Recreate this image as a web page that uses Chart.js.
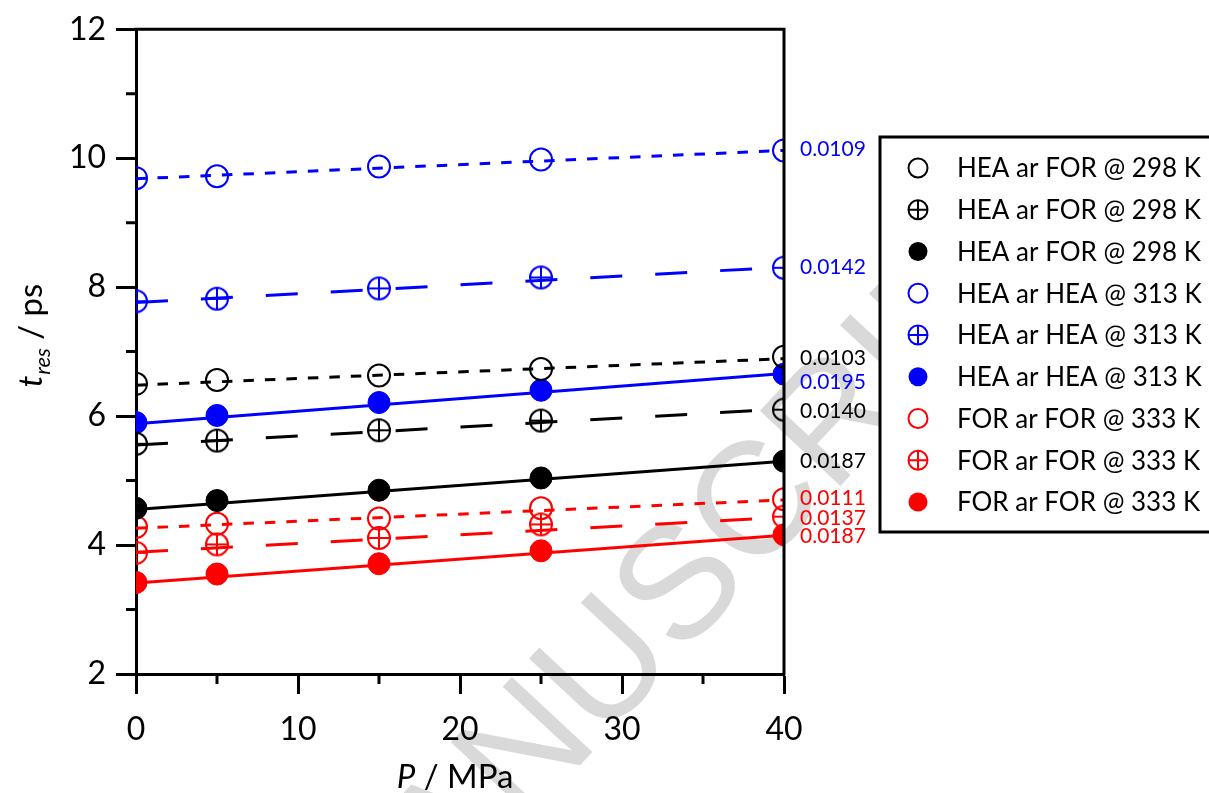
<!DOCTYPE html>
<html><head><meta charset="utf-8">
<script src="https://cdn.jsdelivr.net/npm/chart.js@4.4.0/dist/chart.umd.min.js"></script>
<style>html,body{margin:0;padding:0;background:#fff;}canvas{display:block;}</style>
</head><body>
<canvas id="c" width="1209" height="793"></canvas>
<script>
// ---------- data ----------
const pressures = [0, 5, 15, 25, 40];
const fitX = [0, 40];
const seriesLabels = [
  'HEA ar FOR @ 298 K', 'HEA ar FOR @ 298 K', 'HEA ar FOR @ 298 K',
  'HEA ar HEA @ 313 K', 'HEA ar HEA @ 313 K', 'HEA ar HEA @ 313 K',
  'FOR ar FOR @ 333 K', 'FOR ar FOR @ 333 K', 'FOR ar FOR @ 333 K'
];
const blackOpen   = [6.50, 6.56, 6.63, 6.73, 6.92];
const blackCross  = [5.57, 5.62, 5.78, 5.93, 6.10];
const blackFilled = [4.57, 4.69, 4.85, 5.04, 5.30];
const blueOpen    = [9.69, 9.72, 9.87, 9.98, 10.12];
const blueCross   = [7.78, 7.82, 7.98, 8.15, 8.30];
const blueFilled  = [5.90, 6.01, 6.21, 6.40, 6.65];
const redOpen     = [4.28, 4.33, 4.41, 4.57, 4.71];
const redCross    = [3.88, 4.01, 4.11, 4.32, 4.44];
const redFilled   = [3.42, 3.55, 3.71, 3.91, 4.16];

const blackOpenFit   = [6.48, 6.89];
const blackCrossFit  = [5.55, 6.11];
const blackFilledFit = [4.55, 5.30];
const blueOpenFit    = [9.68, 10.12];
const blueCrossFit   = [7.76, 8.31];
const blueFilledFit  = [5.88, 6.66];
const redOpenFit     = [4.26, 4.70];
const redCrossFit    = [3.89, 4.43];
const redFilledFit   = [3.41, 4.15];

const slopeLabels = ['0.0103', '0.0140', '0.0187', '0.0109', '0.0142', '0.0195', '0.0111', '0.0137', '0.0187'];
const xTicks = [0, 10, 20, 30, 40];
const yTicks = [2, 4, 6, 8, 10, 12];

// ---------- styling ----------
const BLACK = '#000000', BLUE = '#0000ff', RED = '#ff0000';
const FONT = 'Lato, "Open Sans", sans-serif';
const pointSeries = [blackOpen, blackCross, blackFilled, blueOpen, blueCross, blueFilled, redOpen, redCross, redFilled];
const fitSeries = [blackOpenFit, blackCrossFit, blackFilledFit, blueOpenFit, blueCrossFit, blueFilledFit, redOpenFit, redCrossFit, redFilledFit];
const colors = [BLACK, BLACK, BLACK, BLUE, BLUE, BLUE, RED, RED, RED];
const kinds = ['open', 'cross', 'filled', 'open', 'cross', 'filled', 'open', 'cross', 'filled'];
const dashes = { open: [10.5, 11], cross: [32, 33], filled: [] };
const labelDy = [0, 2, 0, -1, 0, 9, -2, 1, 1];

function crossCanvas(color, r) {
  const s = 2 * r + 6, c = document.createElement('canvas');
  c.width = s; c.height = s;
  const g = c.getContext('2d');
  g.strokeStyle = color; g.lineWidth = 2;
  const m = s / 2;
  g.beginPath(); g.arc(m, m, r, 0, Math.PI * 2); g.stroke();
  g.beginPath(); g.moveTo(m - r, m); g.lineTo(m + r, m); g.moveTo(m, m - r); g.lineTo(m, m + r); g.stroke();
  return c;
}

const datasets = [];
pointSeries.forEach((vals, i) => {
  const k = kinds[i], col = colors[i];
  datasets.push({
    label: seriesLabels[i],
    data: pressures.map((p, j) => ({ x: p, y: vals[j] })),
    showLine: false,
    pointStyle: k === 'cross' ? crossCanvas(col, 11) : 'circle',
    pointRadius: 11,
    pointHoverRadius: 11,
    pointBorderWidth: k === 'filled' ? 1 : 2,
    pointBorderColor: col,
    pointBackgroundColor: k === 'filled' ? col : 'rgba(0,0,0,0)',
    order: 1,
    _kind: k, _color: col
  });
});
fitSeries.forEach((vals, i) => {
  datasets.push({
    label: 'fit' + i,
    data: fitX.map((p, j) => ({ x: p, y: vals[j] })),
    showLine: true,
    borderColor: colors[i],
    borderWidth: 3,
    borderDash: dashes[kinds[i]],
    pointRadius: 0,
    pointHoverRadius: 0,
    fill: false,
    order: 2,
    _fit: true, _idx: i
  });
});

const decor = {
  id: 'decor',
  beforeDraw(chart) {
    const ctx = chart.ctx;
    ctx.save();
    ctx.fillStyle = '#ffffff';
    ctx.fillRect(0, 0, chart.width, chart.height);
    // watermark
    ctx.translate(680, 658);
    ctx.rotate(-47 * Math.PI / 180);
    ctx.fillStyle = '#d9d9d9';
    ctx.font = '160px "Liberation Sans", Arial, sans-serif';
    ctx.textBaseline = 'alphabetic';
    ctx.textAlign = 'right';
    ctx.fillText('ACCEPTED MANU', 0, 0);
    ctx.textAlign = 'left';
    ctx.fillText('SCRIPT', 0, 0);
    ctx.restore();
  },
  afterDraw(chart) {
    const ctx = chart.ctx, a = chart.chartArea;
    const xs = chart.scales.x, ys = chart.scales.y;
    ctx.save();
    ctx.strokeStyle = BLACK; ctx.lineWidth = 3; ctx.lineCap = 'butt';
    // frame top & right
    ctx.beginPath();
    ctx.moveTo(a.left - 1.5, a.top); ctx.lineTo(a.right, a.top); ctx.lineTo(a.right, a.bottom + 1.5);
    ctx.stroke();
    // minor ticks
    ctx.beginPath();
    [3, 5, 7, 9, 11].forEach(v => { const y = ys.getPixelForValue(v); ctx.moveTo(a.left - 10, y); ctx.lineTo(a.left, y); });
    [5, 15, 25, 35].forEach(v => { const x = xs.getPixelForValue(v); ctx.moveTo(x, a.bottom); ctx.lineTo(x, a.bottom + 10); });
    ctx.stroke();

    // slope annotations
    ctx.font = '21px ' + FONT;
    ctx.textAlign = 'left'; ctx.textBaseline = 'middle';
    fitSeries.forEach((vals, i) => {
      ctx.fillStyle = colors[i];
      ctx.fillText(slopeLabels[i], a.right + 16, ys.getPixelForValue(vals[vals.length - 1]) + labelDy[i]);
    });

    // axis titles
    ctx.fillStyle = BLACK;
    ctx.textBaseline = 'alphabetic';
    const fMain = '33px ' + FONT, fIt = 'italic 33px ' + FONT, fSub = 'italic 22px ' + FONT;
    ctx.font = fIt; const wP = ctx.measureText('P').width;
    ctx.font = fMain; const wR = ctx.measureText(' / MPa').width;
    let x0 = (a.left + a.right) / 2 - (wP + wR) / 2 - 5;
    ctx.textAlign = 'left';
    ctx.font = fIt; ctx.fillText('P', x0, 788);
    ctx.font = fMain; ctx.fillText(' / MPa', x0 + wP, 788);
    // y title
    ctx.save();
    ctx.translate(42, 336);
    ctx.rotate(-Math.PI / 2);
    ctx.font = fIt; const wt = ctx.measureText('t').width;
    ctx.font = fSub; const wres = ctx.measureText('res').width;
    ctx.font = fMain; const wps = ctx.measureText(' / ps').width;
    let s = -(wt + wres + wps) / 2;
    ctx.font = fIt; ctx.fillText('t', s, 0); s += wt + 1;
    ctx.font = fSub; ctx.fillText('res', s, 8); s += wres;
    ctx.font = fMain; ctx.fillText(' / ps', s, 0);
    ctx.restore();

    // legend
    const lx = 880, ly = 137, lw = 340, lh = 395;
    ctx.fillStyle = '#ffffff';
    ctx.fillRect(lx, ly, lw, lh);
    ctx.strokeStyle = BLACK; ctx.lineWidth = 3;
    ctx.strokeRect(lx, ly, lw, lh);
    ctx.font = '26px ' + FONT;
    ctx.textBaseline = 'middle'; ctx.textAlign = 'left';
    chart.data.datasets.filter(d => !d._fit).forEach((d, i) => {
      const cy = 168 + i * 41.75, cx = 918, r = 9.5;
      ctx.lineWidth = 2; ctx.strokeStyle = d._color; ctx.fillStyle = d._color;
      ctx.beginPath(); ctx.arc(cx, cy, r, 0, Math.PI * 2);
      if (d._kind === 'filled') { ctx.fill(); } else { ctx.stroke(); }
      if (d._kind === 'cross') {
        ctx.beginPath(); ctx.moveTo(cx - r, cy); ctx.lineTo(cx + r, cy); ctx.moveTo(cx, cy - r); ctx.lineTo(cx, cy + r); ctx.stroke();
      }
      ctx.fillStyle = BLACK;
      ctx.fillText(d.label, 957, cy + 1);
    });
    ctx.restore();
  }
};

new Chart(document.getElementById('c'), {
  type: 'line',
  data: { datasets },
  options: {
    responsive: false,
    animation: false,
    devicePixelRatio: 1,
    layout: { padding: { left: 0, top: 25, right: 425, bottom: 0 } },
    plugins: { legend: { display: false }, tooltip: { enabled: false } },
    scales: {
      x: {
        type: 'linear', min: 0, max: 40,
        afterBuildTicks: s => { s.ticks = xTicks.map(v => ({ value: v })); },
        afterFit: s => { s.height = 119; },
        ticks: { color: BLACK, font: { family: FONT, size: 32 }, padding: 16, maxRotation: 0 },
        grid: { drawOnChartArea: false, drawTicks: true, tickLength: 20, tickWidth: 3, tickColor: BLACK, color: BLACK },
        border: { display: true, width: 3, color: BLACK }
      },
      y: {
        type: 'linear', min: 2, max: 12,
        afterBuildTicks: s => { s.ticks = yTicks.map(v => ({ value: v })); },
        afterFit: s => { s.width = 136; },
        ticks: { color: BLACK, font: { family: FONT, size: 32 }, padding: 10 },
        grid: { drawOnChartArea: false, drawTicks: true, tickLength: 20, tickWidth: 3, tickColor: BLACK, color: BLACK },
        border: { display: true, width: 3, color: BLACK }
      }
    }
  },
  plugins: [decor]
});
</script>
</body></html>
